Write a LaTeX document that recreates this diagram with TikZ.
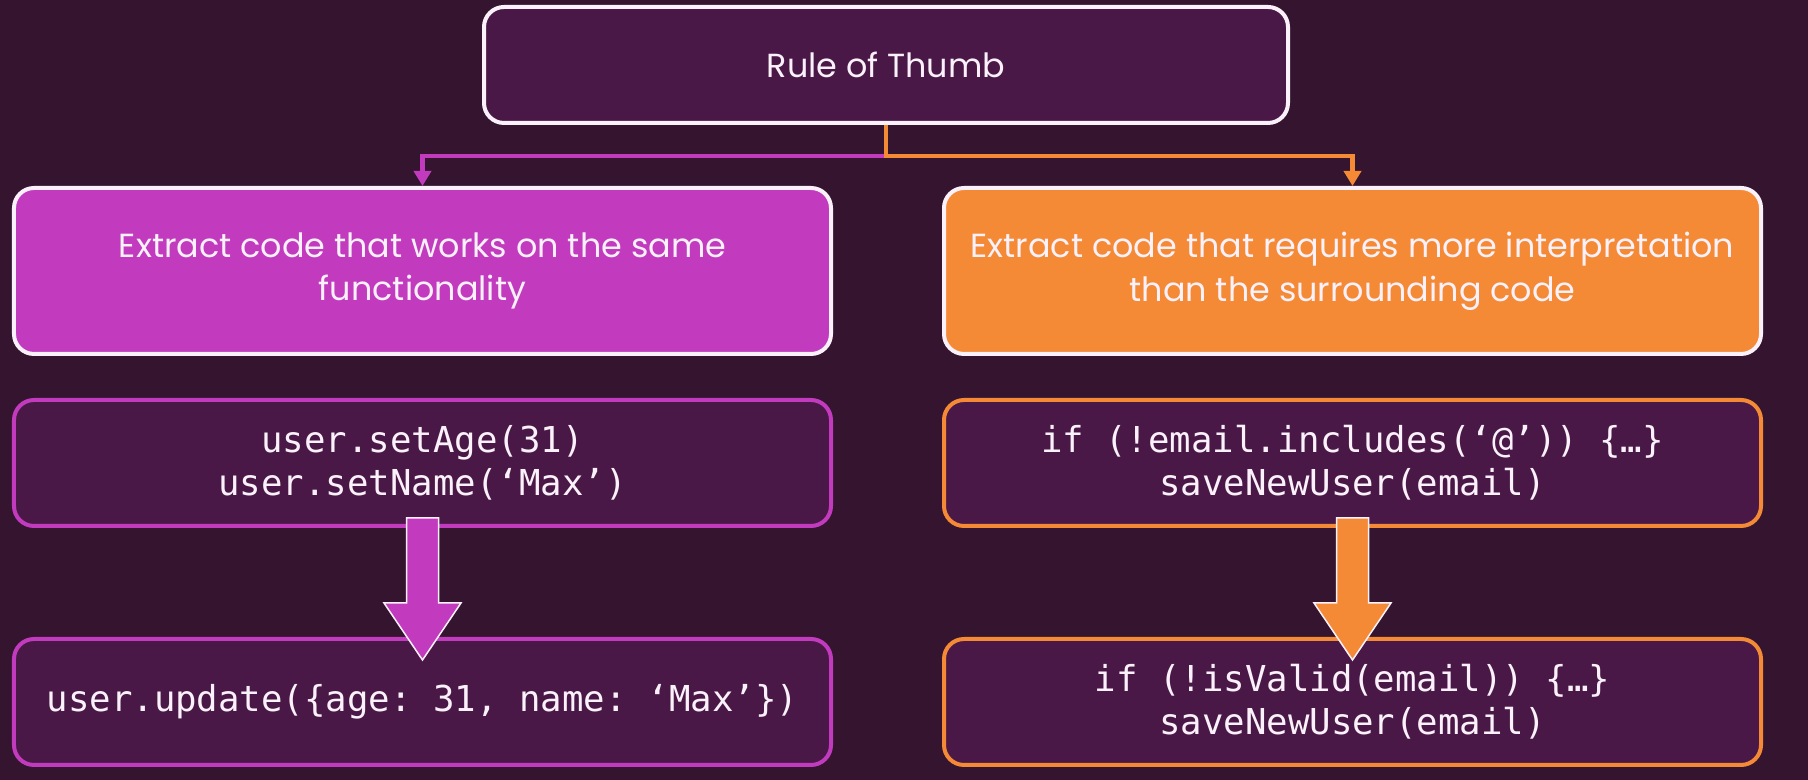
\documentclass[tikz,border=0pt]{standalone}
\usepackage{fontspec}
\setmainfont{Poppins}
\setmonofont{DejaVu Sans Mono}
\usepackage{xcolor}
\usetikzlibrary{arrows.meta,positioning,calc}
\definecolor{bgpurple}{HTML}{34142F}
\definecolor{boxpurple}{HTML}{4A1847}
\definecolor{magentafill}{HTML}{C23BBF}
\definecolor{orangefill}{HTML}{F58A36}
\definecolor{softwhite}{HTML}{FBF1FA}

\begin{document}
\begin{tikzpicture}[
        hint/.style={draw=softwhite, line width=0.08cm, rounded corners=0.4cm, minimum width=16.34cm, minimum height=3.32cm, align=center, text=softwhite, font=\fontsize{19}{25}\selectfont},
        rulebox/.style={hint, fill=boxpurple, minimum width=16.08cm, minimum height=2.32cm},
        codebox/.style={draw, line width=0.08cm, rounded corners=0.4cm, fill=boxpurple, minimum width=16.34cm, minimum height=2.52cm, align=center, text=softwhite, font=\ttfamily\fontsize{20.3}{24.5}\selectfont},
        branch/.style={line width=0.09cm, -{Triangle[length=0.3cm, width=0.34cm]}},
        fatarrow/.style={draw=softwhite, line width=0.03cm, line join=miter}
    ]
    \fill[bgpurple] (0,0) rectangle (36.16,15.6);
    % Nodes
    \node[rulebox] (rule) at (17.72,14.30) {Rule of Thumb};
    \node[hint, fill=magentafill] (same) at (8.45,10.18) {Extract code that works on the same\\functionality};
    \node[hint, fill=orangefill, right=2.18cm of same] (interp) {Extract code that requires more interpretation\\than the surrounding code};
    \node[codebox, draw=magentafill, below=0.84cm of same] (setters) {user.setAge(31)\\user.setName(‘Max’)};
    \node[codebox, draw=magentafill, below=2.18cm of setters] (update) {user.update(\{age: 31, name: ‘Max’\})};
    \node[codebox, draw=orangefill, below=0.84cm of interp] (check) {if (!email.includes(‘@’)) \{…\}\\saveNewUser(email)};
    \node[codebox, draw=orangefill, below=2.18cm of check] (valid) {if (!isValid(email)) \{…\}\\saveNewUser(email)};
    % Branches
    \coordinate (fork) at ($(rule.south)+(0,-0.62)$);
    \draw[branch, magentafill] (fork) -| (same.north);
    \draw[branch, orangefill] (rule.south) -- (fork) -| (interp.north);
    % Big arrows
    \coordinate (s1) at ($(setters.south)+(0,0.2)$);
    \coordinate (t1) at ($(update.north)+(0,-0.46)$);
    \draw[fatarrow, fill=magentafill] ($(s1)+(-0.32,0)$) -- ($(t1)+(-0.32,1.14)$) -- ($(t1)+(-0.77,1.14)$) -- (t1) -- ($(t1)+(0.77,1.14)$) -- ($(t1)+(0.32,1.14)$) -- ($(s1)+(0.32,0)$) -- cycle;
    \coordinate (s2) at ($(check.south)+(0,0.2)$);
    \coordinate (t2) at ($(valid.north)+(0,-0.46)$);
    \draw[fatarrow, fill=orangefill] ($(s2)+(-0.32,0)$) -- ($(t2)+(-0.32,1.14)$) -- ($(t2)+(-0.77,1.14)$) -- (t2) -- ($(t2)+(0.77,1.14)$) -- ($(t2)+(0.32,1.14)$) -- ($(s2)+(0.32,0)$) -- cycle;
\end{tikzpicture}
\end{document}
